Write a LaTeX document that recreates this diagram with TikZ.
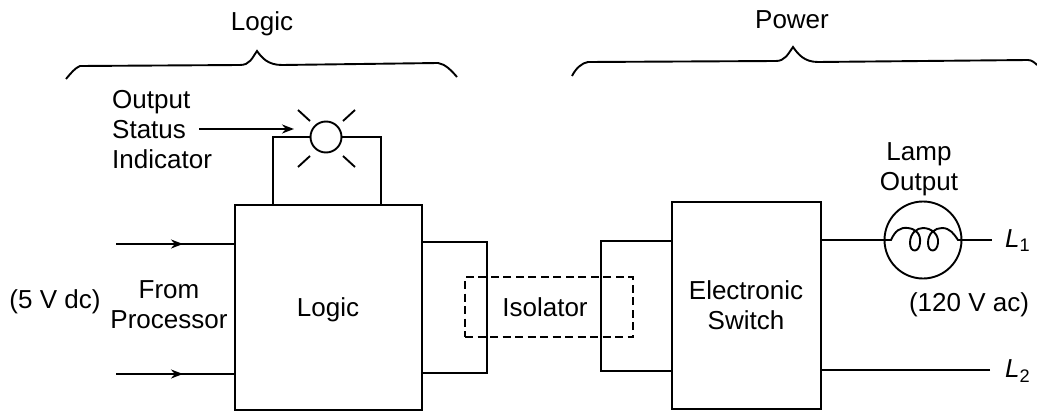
\documentclass[tikz,border=0pt]{standalone}
\usepackage{fontspec}
\setmainfont{Liberation Sans}
\usetikzlibrary{arrows.meta,calc,positioning}
\tikzset{pin/.style={-{Stealth[length=12pt,width=9pt]}},
  blk/.style={draw, line width=1.9pt, inner sep=0pt},
  lbl/.style={font=\fontsize{26}{30}\selectfont, align=center, inner sep=0pt},
  wire/.style={line width=1.9pt}}

\begin{document}
\begin{tikzpicture}[x=1pt,y=-1pt,line join=miter]
  \useasboundingbox (0,0) rectangle (1037,412);
  % main blocks
  \node[blk, minimum width=187pt, minimum height=205pt] (logicbox) at (328.5,307.5) {};
  \node[lbl] (logiclbl) at (328,310) {Logic};
  \node[blk, minimum width=149pt, minimum height=207pt] (switchbox) at (746.5,305.5) {};
  \node[lbl] (switchlbl) at (746,305) {Electronic\\Switch};
  % isolator
  \node[draw, dash pattern=on 8pt off 4.5pt, line width=1.6pt, minimum width=168pt, minimum height=60pt, inner sep=0pt] (isobox) at (549,307) {};
  \node[lbl] (isolbl) at (545,307) {Isolator};
  \coordinate (a1) at (logicbox.east |- 0,242);
  \coordinate (a2) at (logicbox.east |- 0,373);
  \coordinate (b1) at (switchbox.west |- 0,241);
  \coordinate (b2) at (switchbox.west |- 0,371);
  \draw[wire] (a1) -- (487,242) -- (487,373) -- (a2);
  \draw[wire] (b1) -- (601,241) -- (601,371) -- (b2);
  % inputs
  \foreach \y [count=\i] in {244,374}{
    \coordinate (in\i) at (116,\y);
    \coordinate (mid\i) at (183,\y);
    \draw[wire] (in\i) -- (in\i -| logicbox.west);
    \draw[pin, wire] (in\i) -- (mid\i);
  }
  \node[lbl] (fromlbl) at (169,305) {From\\Processor};
  \node[lbl] (dclbl) at (55,302) {(5 V dc)};
  % status lamp
  \node[draw, circle, line width=1.9pt, minimum size=31pt, inner sep=0pt] (led) at (326,137) {};
  \coordinate (ledl) at (273,137);
  \coordinate (ledr) at (381,137);
  \draw[wire] (led.west) -- (ledl) -- (ledl |- logicbox.north);
  \draw[wire] (led.east) -- (ledr) -- (ledr |- logicbox.north);
  \foreach \a/\b in {298/310,355/343}{
    \draw[wire] (\a,110) -- (\b,121);
    \draw[wire] (\a,167) -- (\b,156);
  }
  \node[lbl, align=left, anchor=west] (statuslbl) at (112,130) {Output\\Status\\Indicator};
  \coordinate (arrowstart) at (199,129);
  \coordinate (arrowend) at (294,129);
  \draw[pin, wire] (arrowstart) -- (arrowend);
  % lamp output
  \node[draw, circle, line width=1.9pt, minimum size=77pt, inner sep=0pt] (lamp) at (923,240) {};
  \coordinate (l1end) at (992,240);
  \coordinate (l2end) at (990,370);
  \draw[line width=2.4pt] (switchbox.east |- lamp.west) -- (lamp.west);
  \draw[wire] (lamp.east) -- (l1end);
  \draw[wire] (l2end) -- (switchbox.east |- l2end);
  \draw[wire] (lamp.west) -- (891,240) .. controls (895,231) and (900,227) .. (908,228)
    .. controls (916,229) and (921,234) .. (920,243)
    .. controls (919,253) and (910,253) .. (910,243)
    .. controls (910,233) and (917,228) .. (923,228)
    .. controls (931,228) and (939,234) .. (938,243)
    .. controls (937,253) and (928,253) .. (928,243)
    .. controls (928,233) and (935,228) .. (942,228)
    .. controls (950,228) and (954,234) .. (958,240) -- (lamp.east);
  \node[lbl] (lamplbl) at (919,169) {Lamp\\Output};
  \node[lbl] (aclbl) at (969,305) {(120 V ac)};
  \node[lbl, anchor=west] (l1lbl) at (1005,241) {\textit{L}\textsubscript{1}};
  \node[lbl, anchor=west] (l2lbl) at (1005,371) {\textit{L}\textsubscript{2}};
  % braces
  \node[lbl] (logictop) at (262,24) {Logic};
  \node[lbl] (powertop) at (792,20) {Power};
  \draw[wire] (66,79) .. controls (71,73) and (75,68) .. (80,66) -- (240,65)
    .. controls (250,65) and (252,58) .. (257,51)
    .. controls (262,58) and (268,65) .. (282,65) -- (438,63)
    .. controls (445,64) and (451,70) .. (457,77);
  \draw[wire] (572,76) .. controls (576,68) and (582,63) .. (588,62) -- (776,61)
    .. controls (785,61) and (788,54) .. (793,47)
    .. controls (798,54) and (804,62) .. (818,62) -- (1028,60)
    .. controls (1032,60) and (1035,63) .. (1037,65);
\end{tikzpicture}
\end{document}
